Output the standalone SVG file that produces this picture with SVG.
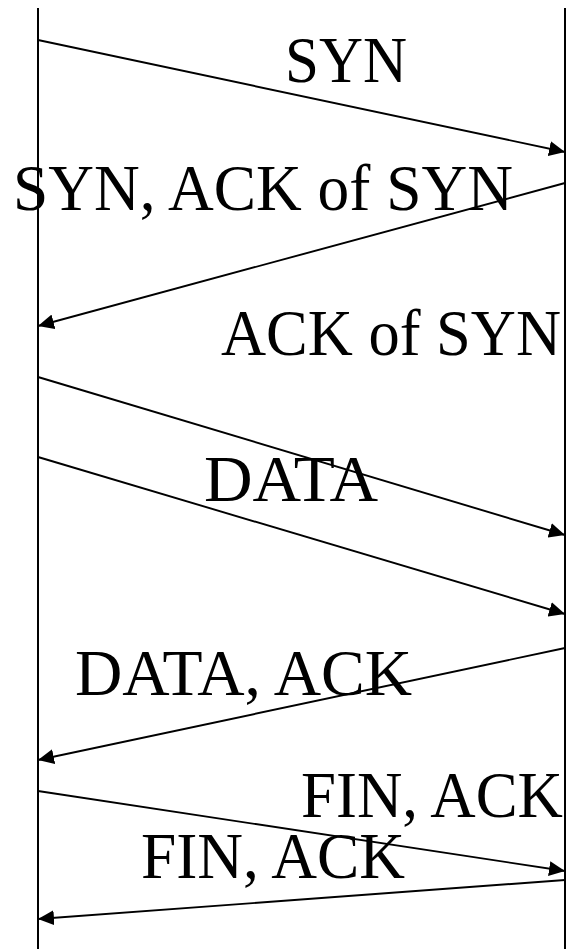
<svg xmlns="http://www.w3.org/2000/svg" width="566" height="949" viewBox="0 0 566 949">
<style>
.life{stroke:#000;stroke-width:2;fill:none}
.msg{stroke:#000;stroke-width:1.9;fill:none;marker-end:url(#arr)}
.lbl{font-family:"Liberation Serif","Times New Roman",serif;font-size:66px;fill:#000}
</style>
<defs>
<marker id="arr" markerUnits="userSpaceOnUse" markerWidth="17" markerHeight="15" viewBox="0 0 17 15" refX="16" refY="7.5" orient="auto">
<path d="M0,0 L16,7.5 L0,15 Z" fill="#000"/>
</marker>
</defs>
<rect width="566" height="949" fill="#fff"/>
<g id="lifeline-left"><line class="life" x1="38" y1="8" x2="38" y2="949"/></g>
<g id="lifeline-right"><line class="life" x1="565" y1="8" x2="565" y2="949"/></g>
<g id="connectors">
<line class="msg" x1="38" y1="40" x2="565" y2="152"/>
<line class="msg" x1="565" y1="183" x2="38" y2="326"/>
<line class="msg" x1="38" y1="377" x2="565" y2="535"/>
<line class="msg" x1="38" y1="457" x2="565" y2="614"/>
<line class="msg" x1="565" y1="648" x2="38" y2="760"/>
<line class="msg" x1="38" y1="791" x2="565" y2="871"/>
<line class="msg" x1="565" y1="880" x2="38" y2="919"/>
</g>
<g id="label-syn"><text class="lbl" x="285" y="82" textLength="122" lengthAdjust="spacingAndGlyphs">SYN</text></g>
<g id="label-synack"><text class="lbl" x="13" y="210" textLength="500" lengthAdjust="spacingAndGlyphs">SYN, ACK of SYN</text></g>
<g id="label-ack"><text class="lbl" x="221" y="355" textLength="340" lengthAdjust="spacingAndGlyphs">ACK of SYN</text></g>
<g id="label-data"><text class="lbl" x="204" y="501" textLength="174" lengthAdjust="spacingAndGlyphs">DATA</text></g>
<g id="label-dataack"><text class="lbl" x="75" y="695" textLength="337" lengthAdjust="spacingAndGlyphs">DATA, ACK</text></g>
<g id="label-finack1"><text class="lbl" x="301" y="817" textLength="262" lengthAdjust="spacingAndGlyphs">FIN, ACK</text></g>
<g id="label-finack2"><text class="lbl" x="141" y="878" textLength="264" lengthAdjust="spacingAndGlyphs">FIN, ACK</text></g>
</svg>
